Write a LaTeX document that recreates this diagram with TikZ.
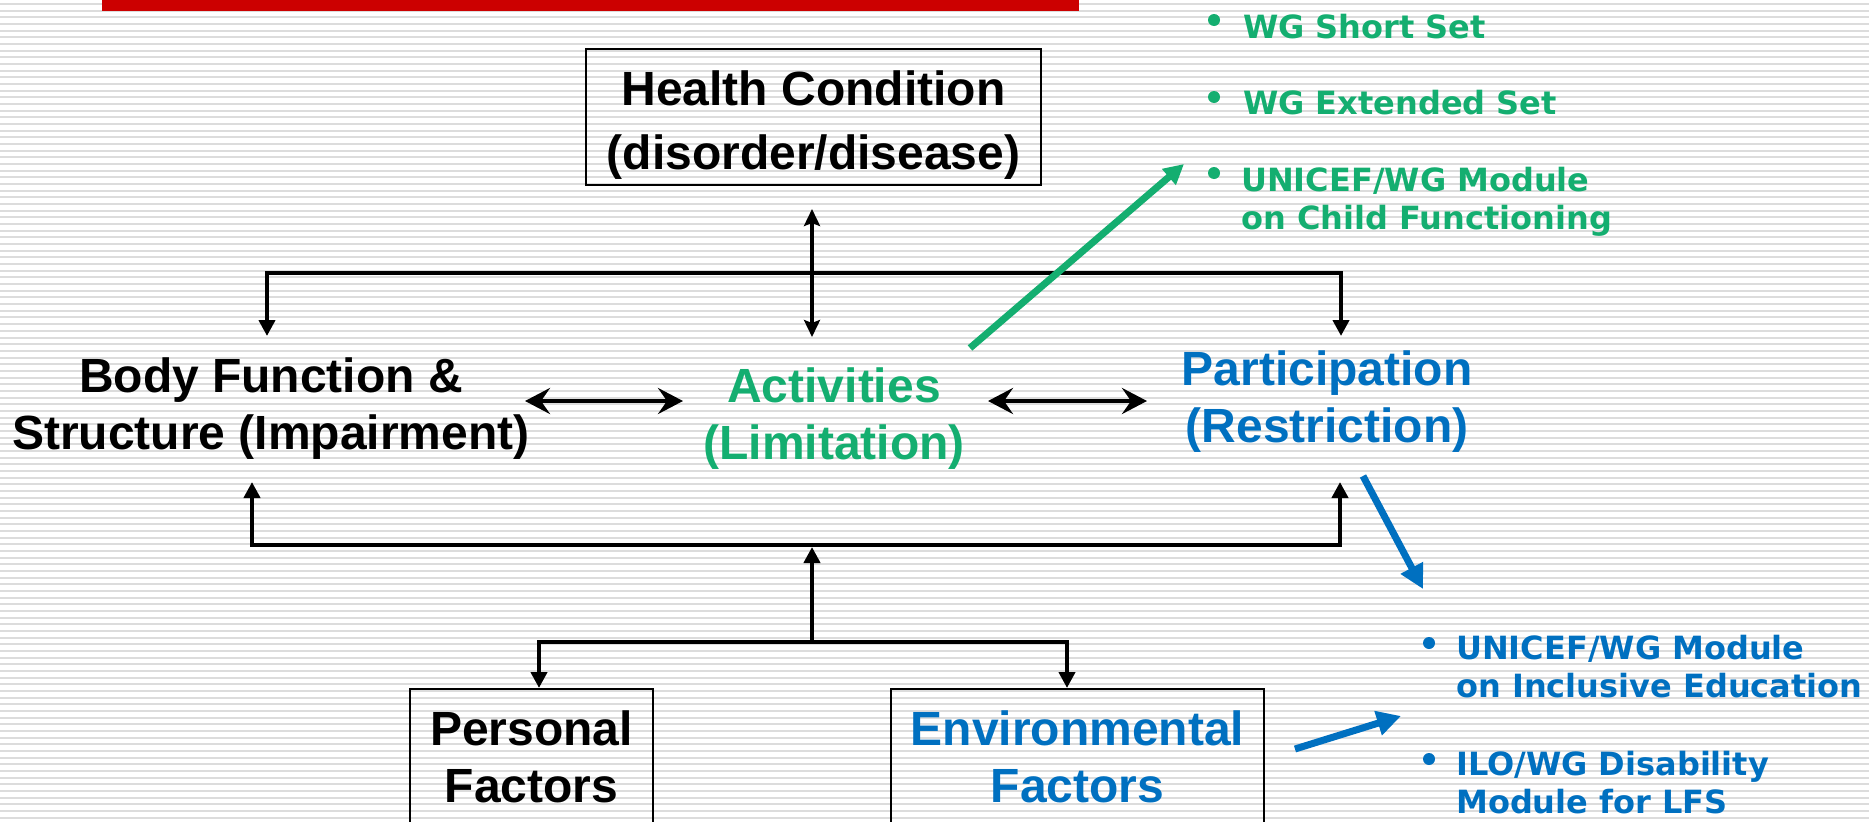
\documentclass[tikz,border=0pt]{standalone}
\usepackage{fontspec}
\setmainfont{Liberation Sans}
\newfontfamily\listfont{DejaVu Sans}
\usetikzlibrary{arrows.meta}
\definecolor{icfgreen}{RGB}{20,174,112}
\definecolor{icfblue}{RGB}{0,112,192}
\definecolor{icfred}{RGB}{204,0,0}
\definecolor{stripegray}{RGB}{220,220,220}
\tikzset{
  mainlabel/.style={font=\bfseries\fontsize{48}{57}\selectfont, align=center, inner sep=0pt},
  listtext/.style={font=\listfont\bfseries\fontsize{32}{37.5}\selectfont, align=left, inner sep=0pt, anchor=north west},
  boxed/.style={draw=black, line width=2pt, inner sep=0pt},
  link/.style={line width=4.5pt, black},
  bullet/.style={circle, inner sep=0pt, minimum size=12pt},
  pointer/.style={line width=7pt, -{Triangle[length=24pt,width=24pt]}},
  smalltip/.style={{Triangle[length=16pt,width=16pt]}-{Triangle[length=16pt,width=16pt]}},
  bigtip/.style={{Stealth[length=25pt,width=26pt,inset=9pt]}-{Stealth[length=25pt,width=26pt,inset=9pt]}},
  vtip/.style={{Stealth[length=17pt,width=16pt,inset=3pt]}-{Stealth[length=17pt,width=16pt,inset=3pt]}}
}
\begin{document}
\begin{tikzpicture}[x=1pt,y=-1pt]
\useasboundingbox (0,0) rectangle (1869,822);
\fill[white] (0,0) rectangle (1869,822);
\foreach \k in {0,...,123} {
  \fill[stripegray] (0,{3+\k*6.67}) rectangle (1869,{5+\k*6.67});
}
\fill[icfred] (102,0) rectangle (1079,11);

% main nodes
\draw[boxed] (586,49) rectangle (1041,185);
\node[mainlabel, font=\bfseries\fontsize{48}{64}\selectfont] (hc) at (813.5,125) {Health Condition\\(disorder/disease)};
\node[mainlabel] (bf) at (271,409) {Body Function \&\\Structure (Impairment)};
\node[mainlabel, text=icfgreen] (act) at (834,419) {Activities\\(Limitation)};
\node[mainlabel, text=icfblue] (par) at (1327,402) {Participation\\(Restriction)};
\node[boxed, mainlabel, minimum width=243pt, minimum height=135pt] (pf) at (531.5,756.5) {Personal\\Factors};
\node[boxed, mainlabel, text=icfblue, minimum width=373pt, minimum height=135pt] (ef) at (1077.5,756.5) {Environmental\\Factors};

% lists
\node[bullet, fill=icfgreen] (gb1) at (1214,20) {};
\node[bullet, fill=icfgreen] (gb2) at (1214,97) {};
\node[bullet, fill=icfgreen] (gb3) at (1214,173) {};
\node[listtext, text=icfgreen] (g1) at (1243,14) {WG Short Set};
\node[listtext, text=icfgreen] (g2) at (1243,90) {WG Extended Set};
\node[listtext, text=icfgreen] (g3) at (1241,167) {UNICEF/WG Module\\on Child Functioning};
\node[bullet, fill=icfblue] (bb1) at (1429,643) {};
\node[bullet, fill=icfblue] (bb2) at (1429,759) {};
\node[listtext, text=icfblue] (b1) at (1456,635) {UNICEF/WG Module\\on Inclusive Education};
\node[listtext, text=icfblue] (b2) at (1456,751) {ILO/WG Disability\\Module for LFS};

% coordinates
\coordinate (hcOut) at (812,209);
\coordinate (actTop) at (812,337);
\coordinate (tl) at (267,273);
\coordinate (tr) at (1341,273);
\coordinate (bfIn) at (267,336);
\coordinate (parIn) at (1341,336);
\coordinate (bl) at (252,545);
\coordinate (br) at (1340,545);
\coordinate (bfOut) at (252,482);
\coordinate (parOut) at (1340,482);
\coordinate (cm) at (812,642);
\coordinate (midB) at (812,547);
\coordinate (ll) at (539,642);
\coordinate (lr) at (1067,642);
\coordinate (bfR) at (525,401);
\coordinate (actL) at (683,401);
\coordinate (actR) at (988,401);
\coordinate (parL) at (1147,401);
\coordinate (actOut) at (970,348);
\coordinate (gIn) at (1184,164);
\coordinate (parOut2) at (1363,476);
\coordinate (bIn) at (1423,589);
\coordinate (efOut) at (1295,749);
\coordinate (bIn2) at (1401,716);

% connectors
\draw[link, vtip] (hcOut) -- (actTop);
\draw[link, smalltip] (bfIn) -- (tl) -- (tr) -- (parIn);
\draw[link, smalltip] (bfOut) -- (bl) -- (br) -- (parOut);
\draw[link, -{Triangle[length=16pt,width=16pt]}] (cm) -- (midB);
\draw[link, smalltip] (pf.north -| ll) -- (ll) -- (lr) -- (ef.north -| lr);
\draw[link, bigtip] (bfR) -- (actL);
\draw[link, bigtip] (actR) -- (parL);
\draw[pointer, icfgreen, -{Triangle[length=20pt,width=20pt]}] (actOut) -- (gIn);
\draw[pointer, icfblue] (parOut2) -- (bIn);
\draw[pointer, icfblue] (efOut) -- (bIn2);
\end{tikzpicture}
\end{document}
